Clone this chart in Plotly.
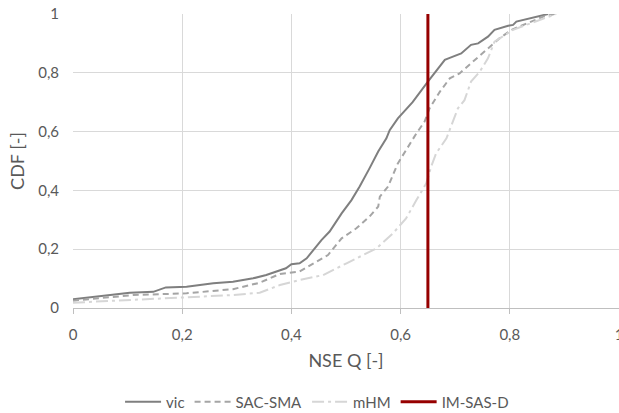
import plotly.graph_objects as go

# Empirical CDFs of NSE for discharge (Q) per model
vic_x = [0, 0.068, 0.104, 0.147, 0.17, 0.208, 0.257, 0.293, 0.33, 0.354, 0.379, 0.39, 0.40, 0.415,
         0.428, 0.443, 0.455, 0.470, 0.492, 0.51, 0.525, 0.543, 0.559, 0.574, 0.58, 0.595, 0.607,
         0.622, 0.650, 0.665, 0.681, 0.690, 0.711, 0.729, 0.742, 0.760, 0.772, 0.797, 0.806, 0.812,
         0.842, 0.870]
vic_y = [0.03, 0.044, 0.052, 0.055, 0.070, 0.072, 0.084, 0.089, 0.101, 0.112, 0.127, 0.135, 0.149,
         0.152, 0.169, 0.203, 0.231, 0.26, 0.322, 0.367, 0.413, 0.475, 0.532, 0.577, 0.605, 0.645,
         0.668, 0.70, 0.770, 0.804, 0.844, 0.851, 0.866, 0.895, 0.900, 0.923, 0.946, 0.960, 0.963,
         0.974, 0.987, 1.0]

sac_x = [0, 0.11, 0.208, 0.293, 0.342, 0.379, 0.415, 0.44, 0.467, 0.492, 0.519, 0.543, 0.559,
         0.562, 0.577, 0.595, 0.610, 0.629, 0.644, 0.653, 0.672, 0.69, 0.708, 0.726, 0.745, 0.763,
         0.781, 0.803, 0.83, 0.861, 0.882]
sac_y = [0.025, 0.044, 0.05, 0.064, 0.086, 0.116, 0.124, 0.15, 0.18, 0.237, 0.271, 0.311, 0.345,
         0.379, 0.413, 0.492, 0.537, 0.594, 0.634, 0.679, 0.736, 0.781, 0.798, 0.827, 0.861, 0.889,
         0.917, 0.946, 0.968, 0.991, 1.0]

mhm_x = [0, 0.11, 0.208, 0.293, 0.342, 0.379, 0.415, 0.458, 0.501, 0.556, 0.586, 0.610, 0.629,
         0.647, 0.656, 0.665, 0.684, 0.696, 0.705, 0.717, 0.729, 0.745, 0.760, 0.772, 0.787, 0.806,
         0.83, 0.855, 0.885]
mhm_y = [0.018, 0.027, 0.035, 0.044, 0.052, 0.078, 0.095, 0.112, 0.152, 0.203, 0.254, 0.305, 0.367,
         0.424, 0.481, 0.526, 0.577, 0.639, 0.679, 0.707, 0.770, 0.804, 0.849, 0.906, 0.923, 0.946,
         0.963, 0.980, 1.0]

# Reference NSE of IM-SAS-D, drawn as a vertical line over the full CDF range
imsas_x = [0.65, 0.65]
imsas_y = [0, 1]

FONT = "Lato, 'Open Sans', sans-serif"
TXT = "#595959"

fig = go.Figure()
fig.add_trace(go.Scatter(x=vic_x, y=vic_y, mode="lines", name="vic",
                         line=dict(color="#7f7f7f", width=2)))
fig.add_trace(go.Scatter(x=sac_x, y=sac_y, mode="lines", name="SAC-SMA",
                         line=dict(color="#a5a5a5", width=2, dash="6px,4px")))
fig.add_trace(go.Scatter(x=mhm_x, y=mhm_y, mode="lines", name="mHM",
                         line=dict(color="#d6d6d6", width=2, dash="12px,4px,3px,4px")))
fig.add_trace(go.Scatter(x=imsas_x, y=imsas_y, mode="lines", name="IM-SAS-D",
                         line=dict(color="#960000", width=3)))

fig.update_layout(
    width=619, height=413,
    margin=dict(l=73, r=0, t=14, b=105, autoexpand=False),
    paper_bgcolor="white", plot_bgcolor="white",
    separators=",.",
    font=dict(family=FONT, size=15, color=TXT),
    showlegend=True,
    legend=dict(orientation="h", x=0.447, xanchor="center", y=-0.32, yanchor="middle",
                font=dict(family=FONT, size=15, color=TXT), itemwidth=36,
                traceorder="normal"),
)
fig.update_xaxes(
    range=[0, 1], dtick=0.2, tick0=0, automargin=False,
    showgrid=True, gridcolor="#d9d9d9", gridwidth=1,
    showline=True, linecolor="#bfbfbf", linewidth=1,
    ticks="outside", ticklen=5, tickcolor="#bfbfbf",
    ticklabeloverflow="allow", ticklabelstandoff=8, zeroline=False,
    tickfont=dict(family=FONT, size=15, color=TXT),
    title=dict(text="NSE Q [-]", font=dict(family=FONT, size=18, color=TXT), standoff=12),
)
fig.update_yaxes(
    range=[0, 1], dtick=0.2, tick0=0, automargin=False,
    showgrid=True, gridcolor="#d9d9d9", gridwidth=1,
    showline=False, zeroline=False, ticklabelstandoff=13,
    tickfont=dict(family=FONT, size=15, color=TXT),
    title=dict(text="CDF [-]", font=dict(family=FONT, size=18, color=TXT), standoff=8),
)

fig.write_html("out.html")
